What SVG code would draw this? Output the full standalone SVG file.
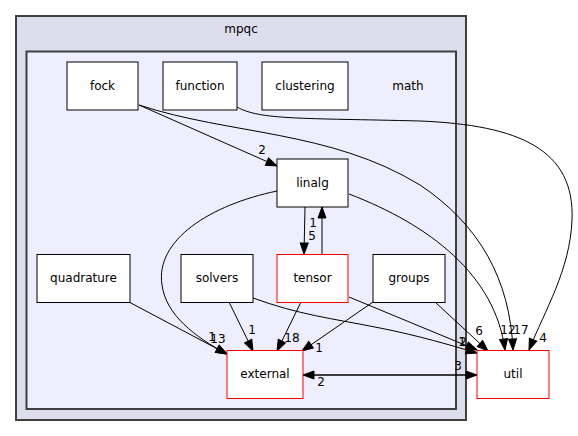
<svg xmlns="http://www.w3.org/2000/svg" width="578" height="436" viewBox="0 0 578 436">
<style>
text{font-family:"DejaVu Sans","Liberation Sans",sans-serif;font-size:12px;fill:#000;text-anchor:middle}
.cl{stroke:#404040;stroke-width:2}
.n{fill:#fff;stroke:#000;stroke-width:1}
.r{fill:#fff;stroke:#ff0000;stroke-width:1}
.e{fill:none;stroke:#000;stroke-width:1;marker-end:url(#ah)}
</style>
<defs>
<marker id="ah" markerUnits="userSpaceOnUse" markerWidth="14" markerHeight="12" refX="11" refY="4.5" orient="auto" overflow="visible">
<path d="M0,0.5 L11,4.5 L0,8.5 z" fill="#000" stroke="#000"/>
</marker>
</defs>
<g id="cluster_mpqc">
<rect class="cl" x="16" y="16" width="450" height="404" fill="#ddddee"/>
<text x="241" y="33">mpqc</text>
</g>
<g id="cluster_math">
<rect class="cl" x="26.5" y="51.5" width="429.5" height="357.5" fill="#eeeeff"/>
<text x="408" y="90">math</text>
</g>
<g id="connectors">
<path class="e" d="M139,105 L277,166"/>
<path class="e" d="M139,105 C230,135 330,130 420,185 C480,225 510,280 513,350"/>
<path class="e" d="M237,107 C260,120 300,118 420,121 C520,125 575,150 572,220 C570,270 545,310 529,350"/>
<path class="e" d="M349,194 C430,225 495,275 505,350"/>
<path class="e" d="M277,191 C210,205 155,240 162,285 C166,315 195,337 227,354"/>
<path class="e" d="M129,302 L227,354"/>
<path class="e" d="M229,302 L253,351"/>
<path class="e" d="M301,302 L277,351"/>
<path class="e" d="M373,302 L302,351"/>
<path class="e" d="M253,298 C300,315 330,318 380,328 C420,336 450,345 477,353"/>
<path class="e" d="M349,297 L477,350"/>
<path class="e" d="M435,302 L488,351"/>
<path class="e" d="M305,207 L304,254"/>
<path class="e" d="M322,254 L322,207"/>
<path class="e" d="M303,375 L477,375"/>
<path class="e" d="M477,375 L303,375"/>
<text x="262" y="154">2</text>
<text x="508" y="334">12</text>
<text x="521" y="334">17</text>
<text x="543" y="342">4</text>
<text x="212" y="341">1</text>
<text x="218" y="343">13</text>
<text x="252" y="334">1</text>
<text x="292" y="342">18</text>
<text x="319" y="352">1</text>
<text x="479" y="335">6</text>
<text x="462" y="346">1</text>
<text x="463" y="346">2</text>
<text x="312" y="240">5</text>
<text x="313" y="227">1</text>
<text x="458" y="370">3</text>
<text x="321" y="386">2</text>
</g>
<g id="fock"><rect class="n" x="67" y="62" width="71" height="48"/><text x="102.5" y="90">fock</text></g>
<g id="function"><rect class="n" x="163" y="62" width="74" height="48"/><text x="200" y="90">function</text></g>
<g id="clustering"><rect class="n" x="262" y="62" width="86" height="48"/><text x="305" y="90">clustering</text></g>
<g id="linalg"><rect class="n" x="277" y="159" width="71" height="48"/><text x="312.5" y="187">linalg</text></g>
<g id="quadrature"><rect class="n" x="37" y="254.5" width="93" height="48"/><text x="83.5" y="282">quadrature</text></g>
<g id="solvers"><rect class="n" x="181" y="254.5" width="72" height="48"/><text x="217" y="282">solvers</text></g>
<g id="tensor"><rect class="r" x="277" y="254.5" width="71" height="48"/><text x="312.5" y="282">tensor</text></g>
<g id="groups"><rect class="n" x="373" y="254.5" width="72" height="48"/><text x="409" y="282">groups</text></g>
<g id="external"><rect class="r" x="227" y="350.5" width="76" height="48"/><text x="265" y="378">external</text></g>
<g id="util"><rect class="r" x="477" y="350.5" width="72" height="48"/><text x="513" y="378">util</text></g>
</svg>
